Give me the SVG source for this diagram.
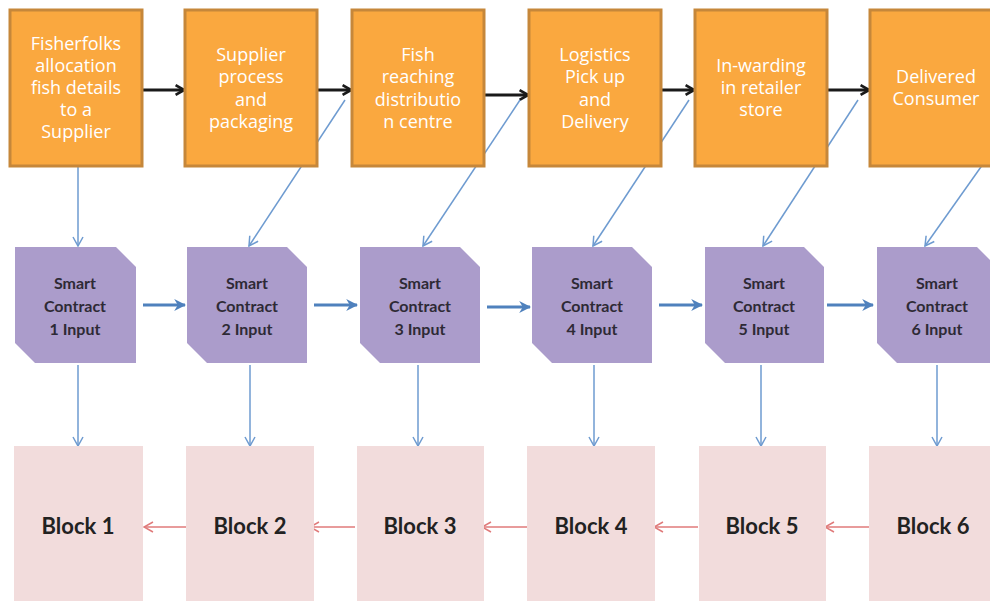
<svg xmlns="http://www.w3.org/2000/svg" width="990" height="601" viewBox="0 0 990 601">
  <style>
    .step { fill: #FAA83F; stroke: #C6873A; stroke-width: 3; }
    .step-text { font-family: "Open Sans", "Noto Sans", sans-serif; font-size: 18px; fill: #FFFFFF; text-anchor: middle; }
    .contract { fill: #AB9CCB; }
    .contract-text { font-family: Lato, "Liberation Sans", sans-serif; font-weight: bold; font-size: 16px; fill: #2E2A35; text-anchor: middle; }
    .block { fill: #F2DCDC; }
    .block-text { font-family: Lato, "Liberation Sans", sans-serif; font-weight: bold; font-size: 22px; fill: #222222; text-anchor: middle; }
    .flow { stroke: #1A1A1A; stroke-width: 3; fill: none; marker-end: url(#blackHead); }
    .feed { stroke: #6E9BD0; stroke-width: 1.5; fill: none; marker-end: url(#thinBlueHead); }
    .chain { stroke: #4F81BD; stroke-width: 3; fill: none; marker-end: url(#blueHead); }
    .link { stroke: #E07A7A; stroke-width: 1.5; fill: none; marker-end: url(#redHead); }
  </style>
  <defs>
    <marker id="blackHead" viewBox="0 0 10 10" refX="8" refY="5" markerWidth="4" markerHeight="4" orient="auto" markerUnits="strokeWidth">
      <path d="M1,1 L8,5 L1,9" fill="none" stroke="#1A1A1A" stroke-width="2.2"/>
    </marker>
    <marker id="blueHead" viewBox="0 0 10 10" refX="9" refY="5" markerWidth="4" markerHeight="4" orient="auto" markerUnits="strokeWidth">
      <path d="M0,0 L10,5 L0,10 L3,5 Z" fill="#4F81BD"/>
    </marker>
    <marker id="thinBlueHead" viewBox="0 0 12 12" refX="11" refY="6" markerWidth="8" markerHeight="8" orient="auto" markerUnits="strokeWidth">
      <path d="M2,1 L11,6 L2,11" fill="none" stroke="#6E9BD0" stroke-width="1.5"/>
    </marker>
    <marker id="redHead" viewBox="0 0 12 12" refX="11" refY="6" markerWidth="8" markerHeight="8" orient="auto" markerUnits="strokeWidth">
      <path d="M2,1 L11,6 L2,11" fill="none" stroke="#E07A7A" stroke-width="1.5"/>
    </marker>
  </defs>

  <rect width="990" height="601" fill="#FFFFFF"/>

  <!-- connectors -->
  <g id="connectors">
    <!-- process flow between stages -->
    <line class="flow" x1="142" y1="90" x2="184" y2="90"/>
    <line class="flow" x1="317" y1="90" x2="351" y2="90"/>
    <line class="flow" x1="484" y1="95" x2="528" y2="95"/>
    <line class="flow" x1="661" y1="90" x2="694" y2="90"/>
    <line class="flow" x1="827" y1="90" x2="869" y2="90"/>

    <!-- stage to smart contract -->
    <line class="feed" x1="78" y1="167" x2="78" y2="246"/>
    <line class="feed" x1="345" y1="100" x2="249" y2="246"/>
    <line class="feed" x1="520" y1="100" x2="423" y2="246"/>
    <line class="feed" x1="689" y1="100" x2="593" y2="246"/>
    <line class="feed" x1="858" y1="100" x2="763" y2="246"/>
    <line class="feed" x1="1000" y1="140" x2="925" y2="246"/>

    <!-- smart contract chain -->
    <line class="chain" x1="143" y1="305" x2="185" y2="305"/>
    <line class="chain" x1="314" y1="305" x2="357" y2="305"/>
    <line class="chain" x1="487" y1="307" x2="530" y2="307"/>
    <line class="chain" x1="659" y1="305" x2="702" y2="305"/>
    <line class="chain" x1="827" y1="305" x2="873" y2="305"/>

    <!-- smart contract to block -->
    <line class="feed" x1="78" y1="365" x2="78" y2="446"/>
    <line class="feed" x1="250" y1="365" x2="250" y2="446"/>
    <line class="feed" x1="418" y1="365" x2="418" y2="446"/>
    <line class="feed" x1="594" y1="365" x2="594" y2="446"/>
    <line class="feed" x1="761" y1="365" x2="761" y2="446"/>
    <line class="feed" x1="937" y1="365" x2="937" y2="446"/>

    <!-- block back-links -->
    <line class="link" x1="188" y1="527" x2="144" y2="527"/>
    <line class="link" x1="355" y1="527" x2="310" y2="527"/>
    <line class="link" x1="527" y1="527" x2="482" y2="527"/>
    <line class="link" x1="698" y1="527" x2="654" y2="527"/>
    <line class="link" x1="869" y1="527" x2="825" y2="527"/>
  </g>

  <!-- supply chain stages -->
  <g id="stage1">
    <rect class="step" x="10" y="10" width="132" height="156"/>
    <text class="step-text"><tspan x="76" y="50">Fisherfolks</tspan><tspan x="76" y="72">allocation</tspan><tspan x="76" y="94">fish details</tspan><tspan x="76" y="116">to a</tspan><tspan x="76" y="138">Supplier</tspan></text>
  </g>
  <g id="stage2">
    <rect class="step" x="185" y="10" width="132" height="156"/>
    <text class="step-text"><tspan x="251" y="61">Supplier</tspan><tspan x="251" y="83">process</tspan><tspan x="251" y="106">and</tspan><tspan x="251" y="128">packaging</tspan></text>
  </g>
  <g id="stage3">
    <rect class="step" x="352" y="10" width="132" height="156"/>
    <text class="step-text"><tspan x="418" y="61">Fish</tspan><tspan x="418" y="83">reaching</tspan><tspan x="418" y="106">distributio</tspan><tspan x="418" y="128">n centre</tspan></text>
  </g>
  <g id="stage4">
    <rect class="step" x="529" y="10" width="132" height="156"/>
    <text class="step-text"><tspan x="595" y="61">Logistics</tspan><tspan x="595" y="83">Pick up</tspan><tspan x="595" y="106">and</tspan><tspan x="595" y="128">Delivery</tspan></text>
  </g>
  <g id="stage5">
    <rect class="step" x="695" y="10" width="132" height="156"/>
    <text class="step-text"><tspan x="761" y="72">In-warding</tspan><tspan x="761" y="94">in retailer</tspan><tspan x="761" y="116">store</tspan></text>
  </g>
  <g id="stage6">
    <rect class="step" x="870" y="10" width="132" height="156"/>
    <text class="step-text"><tspan x="936" y="83">Delivered</tspan><tspan x="936" y="105">Consumer</tspan></text>
  </g>

  <!-- smart contracts -->
  <g id="contract1">
    <path class="contract" d="M15,247 H116 L136,267 V363 H35 L15,343 Z"/>
    <text class="contract-text"><tspan x="75" y="289">Smart</tspan><tspan x="75" y="312">Contract</tspan><tspan x="75" y="335">1 Input</tspan></text>
  </g>
  <g id="contract2">
    <path class="contract" d="M187,247 H287 L307,267 V363 H207 L187,343 Z"/>
    <text class="contract-text"><tspan x="247" y="289">Smart</tspan><tspan x="247" y="312">Contract</tspan><tspan x="247" y="335">2 Input</tspan></text>
  </g>
  <g id="contract3">
    <path class="contract" d="M360,247 H460 L480,267 V363 H380 L360,343 Z"/>
    <text class="contract-text"><tspan x="420" y="289">Smart</tspan><tspan x="420" y="312">Contract</tspan><tspan x="420" y="335">3 Input</tspan></text>
  </g>
  <g id="contract4">
    <path class="contract" d="M532,247 H632 L652,267 V363 H552 L532,343 Z"/>
    <text class="contract-text"><tspan x="592" y="289">Smart</tspan><tspan x="592" y="312">Contract</tspan><tspan x="592" y="335">4 Input</tspan></text>
  </g>
  <g id="contract5">
    <path class="contract" d="M705,247 H804 L824,267 V363 H725 L705,343 Z"/>
    <text class="contract-text"><tspan x="764" y="289">Smart</tspan><tspan x="764" y="312">Contract</tspan><tspan x="764" y="335">5 Input</tspan></text>
  </g>
  <g id="contract6">
    <path class="contract" d="M877,247 H977 L997,267 V363 H897 L877,343 Z"/>
    <text class="contract-text"><tspan x="937" y="289">Smart</tspan><tspan x="937" y="312">Contract</tspan><tspan x="937" y="335">6 Input</tspan></text>
  </g>

  <!-- blocks -->
  <g id="block1">
    <rect class="block" x="14" y="446" width="129" height="160"/>
    <text class="block-text" x="78" y="534">Block 1</text>
  </g>
  <g id="block2">
    <rect class="block" x="186" y="446" width="128" height="160"/>
    <text class="block-text" x="250" y="534">Block 2</text>
  </g>
  <g id="block3">
    <rect class="block" x="357" y="446" width="127" height="160"/>
    <text class="block-text" x="420" y="534">Block 3</text>
  </g>
  <g id="block4">
    <rect class="block" x="527" y="446" width="128" height="160"/>
    <text class="block-text" x="591" y="534">Block 4</text>
  </g>
  <g id="block5">
    <rect class="block" x="699" y="446" width="127" height="160"/>
    <text class="block-text" x="762" y="534">Block 5</text>
  </g>
  <g id="block6">
    <rect class="block" x="869" y="446" width="130" height="160"/>
    <text class="block-text" x="933" y="534">Block 6</text>
  </g>
</svg>
